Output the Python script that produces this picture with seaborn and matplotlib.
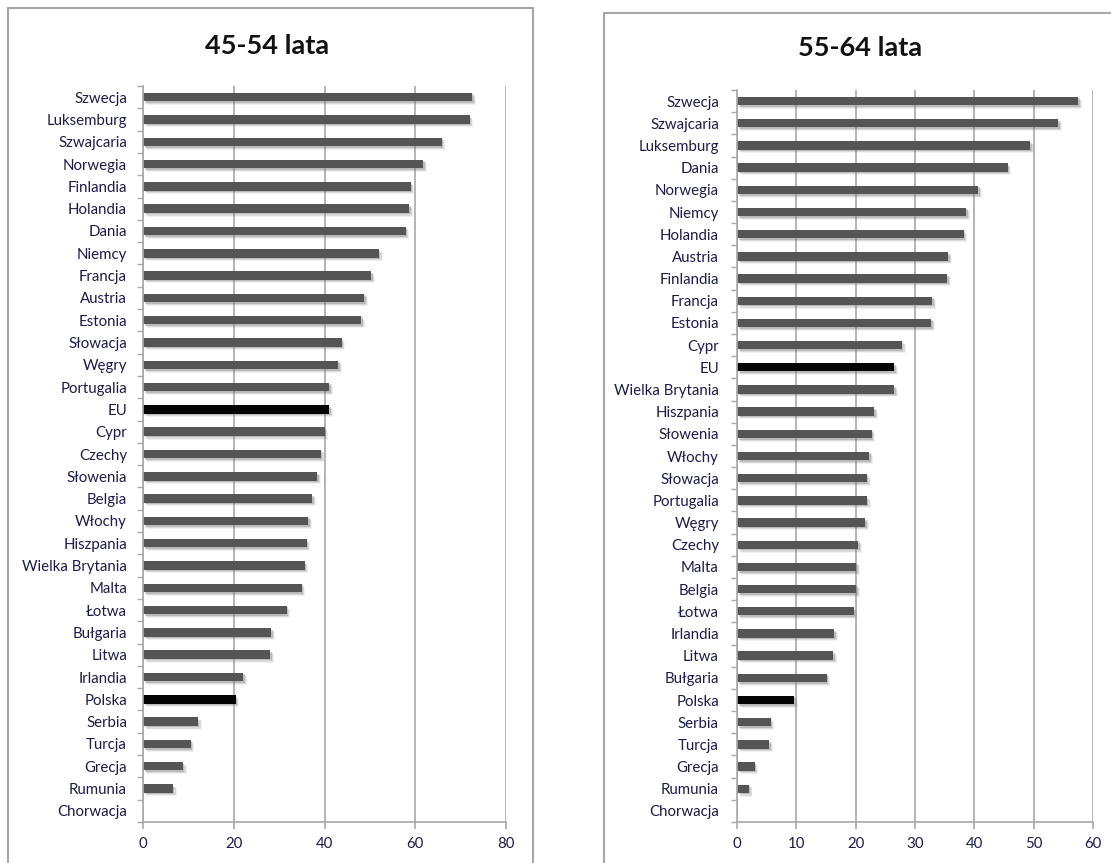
import numpy as np
import pandas as pd
import matplotlib
matplotlib.use("Agg")
import matplotlib.pyplot as plt
import matplotlib.patheffects as pe
from matplotlib.patches import Rectangle
import seaborn as sns

# 45-54 age group
countries_45 = ["Szwecja", "Luksemburg", "Szwajcaria", "Norwegia", "Finlandia", "Holandia",
                "Dania", "Niemcy", "Francja", "Austria", "Estonia", "Słowacja", "Węgry",
                "Portugalia", "EU", "Cypr", "Czechy", "Słowenia", "Belgia", "Włochy",
                "Hiszpania", "Wielka Brytania", "Malta", "Łotwa", "Bułgaria", "Litwa",
                "Irlandia", "Polska", "Serbia", "Turcja", "Grecja", "Rumunia", "Chorwacja"]
values_45 = [72.6, 72.0, 65.8, 61.8, 59.0, 58.7, 57.9, 52.0, 50.3, 48.8, 48.1, 43.8, 43.0,
             41.0, 41.0, 40.0, 39.2, 38.4, 37.3, 36.4, 36.1, 35.6, 35.0, 31.7, 28.3, 28.0,
             22.1, 20.4, 12.1, 10.5, 8.8, 6.6, 0.0]

# 55-64 age group
countries_55 = ["Szwecja", "Szwajcaria", "Luksemburg", "Dania", "Norwegia", "Niemcy",
                "Holandia", "Austria", "Finlandia", "Francja", "Estonia", "Cypr", "EU",
                "Wielka Brytania", "Hiszpania", "Słowenia", "Włochy", "Słowacja",
                "Portugalia", "Węgry", "Czechy", "Malta", "Belgia", "Łotwa", "Irlandia",
                "Litwa", "Bułgaria", "Polska", "Serbia", "Turcja", "Grecja", "Rumunia",
                "Chorwacja"]
values_55 = [57.5, 54.1, 49.4, 45.6, 40.7, 38.6, 38.2, 35.6, 35.4, 32.9, 32.7, 27.8, 26.5,
             26.5, 23.1, 22.7, 22.3, 21.9, 21.9, 21.6, 20.4, 20.1, 20.1, 19.7, 16.4, 16.2,
             15.1, 9.6, 5.7, 5.4, 3.0, 2.0, 0.0]

titles = ["45-54 lata", "55-64 lata"]
highlighted = ["EU", "Polska"]

BAR = "#555555"
HIGHLIGHT = "#050505"
GRID = "#a8a8a8"
TEXT = "#1c1c48"

sns.set_theme(style="white")
plt.rcParams["font.family"] = ["Lato", "DejaVu Sans"]

W, H = 1111, 863
fig = plt.figure(figsize=(W / 100, H / 100), dpi=100)
fig.patch.set_facecolor("white")


def px_rect(left, top, right, bottom):
    return [left / W, 1 - bottom / H, (right - left) / W, (bottom - top) / H]


def draw_panel(ax, countries, values, xmax, step, label_pad):
    df = pd.DataFrame({"country": countries, "value": values})
    palette = {c: (HIGHLIGHT if c in highlighted else BAR) for c in countries}
    sns.barplot(data=df, x="value", y="country", hue="country", palette=palette,
                legend=False, width=0.38, saturation=1, ax=ax, orient="h")
    # soft drop shadow built from a few offset layers
    shadow = [pe.SimplePatchShadow(offset=(2.6, -2.6), shadow_rgbFace="#909090", alpha=0.12),
              pe.SimplePatchShadow(offset=(1.9, -1.9), shadow_rgbFace="#808080", alpha=0.2),
              pe.SimplePatchShadow(offset=(1.1, -1.1), shadow_rgbFace="#707070", alpha=0.3),
              pe.Normal()]
    for p in ax.patches:
        p.set_path_effects(shadow)
        p.set_edgecolor("none")
    n = len(countries)
    ax.set_xlim(0, xmax)
    ax.set_ylim(n - 0.5, -0.5)
    ax.set_xticks(np.arange(0, xmax + 0.1, step))
    ax.set_xticklabels([f"{int(v)}" for v in np.arange(0, xmax + 0.1, step)])
    ax.set_yticks(range(n))
    ax.set_yticklabels(countries)
    ax.set_yticks(np.arange(-0.5, n, 1), minor=True)
    ax.set_xlabel("")
    ax.set_ylabel("")
    ax.set_axisbelow(True)
    ax.grid(axis="x", color=GRID, linewidth=1.2)
    ax.grid(axis="y", visible=False)
    for side in ["top", "right"]:
        ax.spines[side].set_visible(False)
    for side in ["left", "bottom"]:
        ax.spines[side].set_visible(True)
        ax.spines[side].set_color(GRID)
        ax.spines[side].set_linewidth(1.2)
    ax.tick_params(axis="y", which="major", length=0, pad=label_pad, labelsize=10.8,
                   labelcolor=TEXT)
    ax.tick_params(axis="y", which="minor", length=4, width=1, color=GRID, left=True)
    ax.tick_params(axis="x", which="major", length=5, width=1.2, color=GRID, bottom=True,
                   pad=6, labelsize=10.8, labelcolor=TEXT)
    ax.set_facecolor("white")


ax1 = fig.add_axes(px_rect(143, 86, 506, 822))
draw_panel(ax1, countries_45, values_45, 80, 20, 11.5)

ax2 = fig.add_axes(px_rect(737, 90, 1093, 822))
draw_panel(ax2, countries_55, values_55, 60, 10, 13)

# Chart frames
fig.add_artist(Rectangle((8 / W, -0.05), (533 - 8) / W, (H - 8) / H + 0.05,
                         transform=fig.transFigure, fill=False, edgecolor="#a6a6a6",
                         linewidth=1.5))
fig.add_artist(Rectangle((604 / W, -0.05), 0.5, (H - 13) / H + 0.05,
                         transform=fig.transFigure, fill=False, edgecolor="#a6a6a6",
                         linewidth=1.5))

fig.text(267 / W, 1 - 46 / H, titles[0], ha="center", va="center", fontsize=19.5,
         fontweight="bold", color="#111111")
fig.text(860 / W, 1 - 48 / H, titles[1], ha="center", va="center", fontsize=19.5,
         fontweight="bold", color="#111111")

fig.savefig("out.png", dpi=100, facecolor="white")
